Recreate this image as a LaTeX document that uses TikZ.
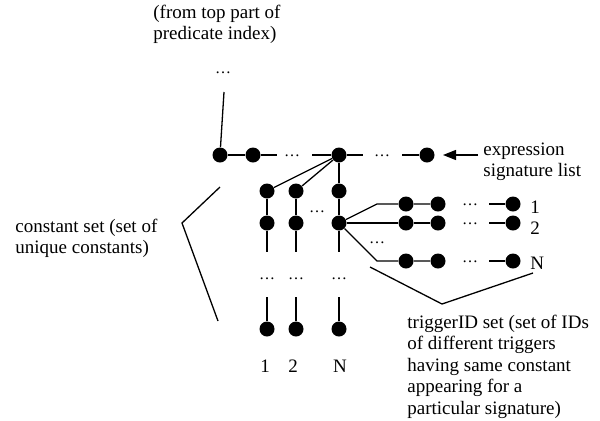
\documentclass[tikz,border=0pt]{standalone}
\usepackage{fontspec}
\setmainfont{Liberation Serif}
\usetikzlibrary{arrows.meta}
\begin{document}
\begin{tikzpicture}[x=0.5pt,y=-0.5pt,
  dot/.style={circle,fill=black,inner sep=0pt,minimum size=7.5pt},
  link/.style={line width=0.65pt},
  gap/.style={inner sep=0pt,anchor=base,font=\fontsize{8}{10}\selectfont},
  lbl/.style={inner sep=0pt,anchor=base,font=\fontsize{9.5}{10.75}\selectfont},
  note/.style={inner sep=0pt,anchor=north west,align=left,font=\fontsize{9.5}{10.75}\selectfont}]
\useasboundingbox (0,0) rectangle (600,420);

% texts
\node[note] (src) at (153,3) {\strut(from top part of\\predicate index)};
\node[note] (sig) at (483,140) {\strut expression\\signature list};
\node[note] (cset) at (15,217) {\strut constant set (set of\\unique constants)};
\node[note] (tset) at (407,313) {\strut triggerID set (set of IDs\\of different triggers\\having same constant\\appearing for a\\particular signature)};

% expression signature list
\node[gap] (dtop) at (223,73) {\ldots};
\coordinate (ttop) at (224,92);
\node[dot] (a) at (220,155) {};
\node[dot] (b) at (253,155) {};
\node[dot] (m) at (339,155) {};
\node[dot] (z) at (427,155) {};
\node[gap] (dr1) at (292,156) {\ldots};
\node[gap] (dr2) at (382,156) {\ldots};
\coordinate (r1) at (277,155);
\coordinate (r2) at (312,155);
\coordinate (r3) at (363,155);
\coordinate (r4) at (402,155);
\draw[link] (ttop) -- (a);
\draw[link] (a) -- (b) -- (r1);
\draw[link] (r2) -- (m) -- (r3);
\draw[link] (r4) -- (z);
\coordinate (atail) at (478,155);
\draw[link,-{Triangle[length=6.5pt,width=5pt]}] (atail) -- (443,155);

% constant set columns
\node[dot] (c11) at (267,191) {};
\node[dot] (c12) at (267,223) {};
\node[dot] (c13) at (267,329) {};
\node[dot] (c21) at (296,191) {};
\node[dot] (c22) at (296,223) {};
\node[dot] (c23) at (296,329) {};
\node[dot] (cn1) at (339,191) {};
\node[dot] (cn2) at (339,223) {};
\node[dot] (cn3) at (339,329) {};
\node[gap] (dcol) at (317,212) {\ldots};
\node[gap] (d1) at (267,279) {\ldots};
\node[gap] (d2) at (296,279) {\ldots};
\node[gap] (dn) at (339,279) {\ldots};
\foreach \c/\x in {1/267,2/296,n/339}{
  \coordinate (u\c) at (\x,252);
  \coordinate (v\c) at (\x,297);
  \draw[link] (c\c1) -- (c\c2) -- (u\c);
  \draw[link] (v\c) -- (c\c3);
}
\draw[link] (m) -- (c11);
\draw[link] (m) -- (c21);
\draw[link] (m) -- (cn1);
\node[lbl] (n1) at (265,372) {1};
\node[lbl] (n2) at (293,372) {2};
\node[lbl] (nn) at (340,372) {N};

% triggerID lists
\foreach \r/\y/\t/\b in {1/204/1/213,2/223/2/234,3/261/N/269}{
  \coordinate (k\r) at (377,\y);
  \node[dot] (t\r a) at (406,\y) {};
  \node[dot] (t\r b) at (438,\y) {};
  \node[gap] (t\r d) at (470,\y+1) {\ldots};
  \coordinate (t\r s) at (489,\y);
  \node[dot] (t\r z) at (513,\y) {};
  \node[lbl,anchor=base west] (t\r l) at (530,\b) {\t};
  \draw[link] (cn2) -- (k\r) -- (t\r a) -- (t\r b);
  \draw[link] (t\r s) -- (t\r z);
}
\node[gap] (dtr) at (377,243) {\ldots};

% braces
\coordinate (cb1) at (220,187);
\coordinate (cb2) at (182,223);
\coordinate (cb3) at (218,321);
\draw[link] (cb1) -- (cb2) -- (cb3);
\coordinate (tb1) at (370,267);
\coordinate (tb2) at (442,304);
\coordinate (tb3) at (533,273);
\draw[link] (tb1) -- (tb2) -- (tb3);
\end{tikzpicture}
\end{document}
